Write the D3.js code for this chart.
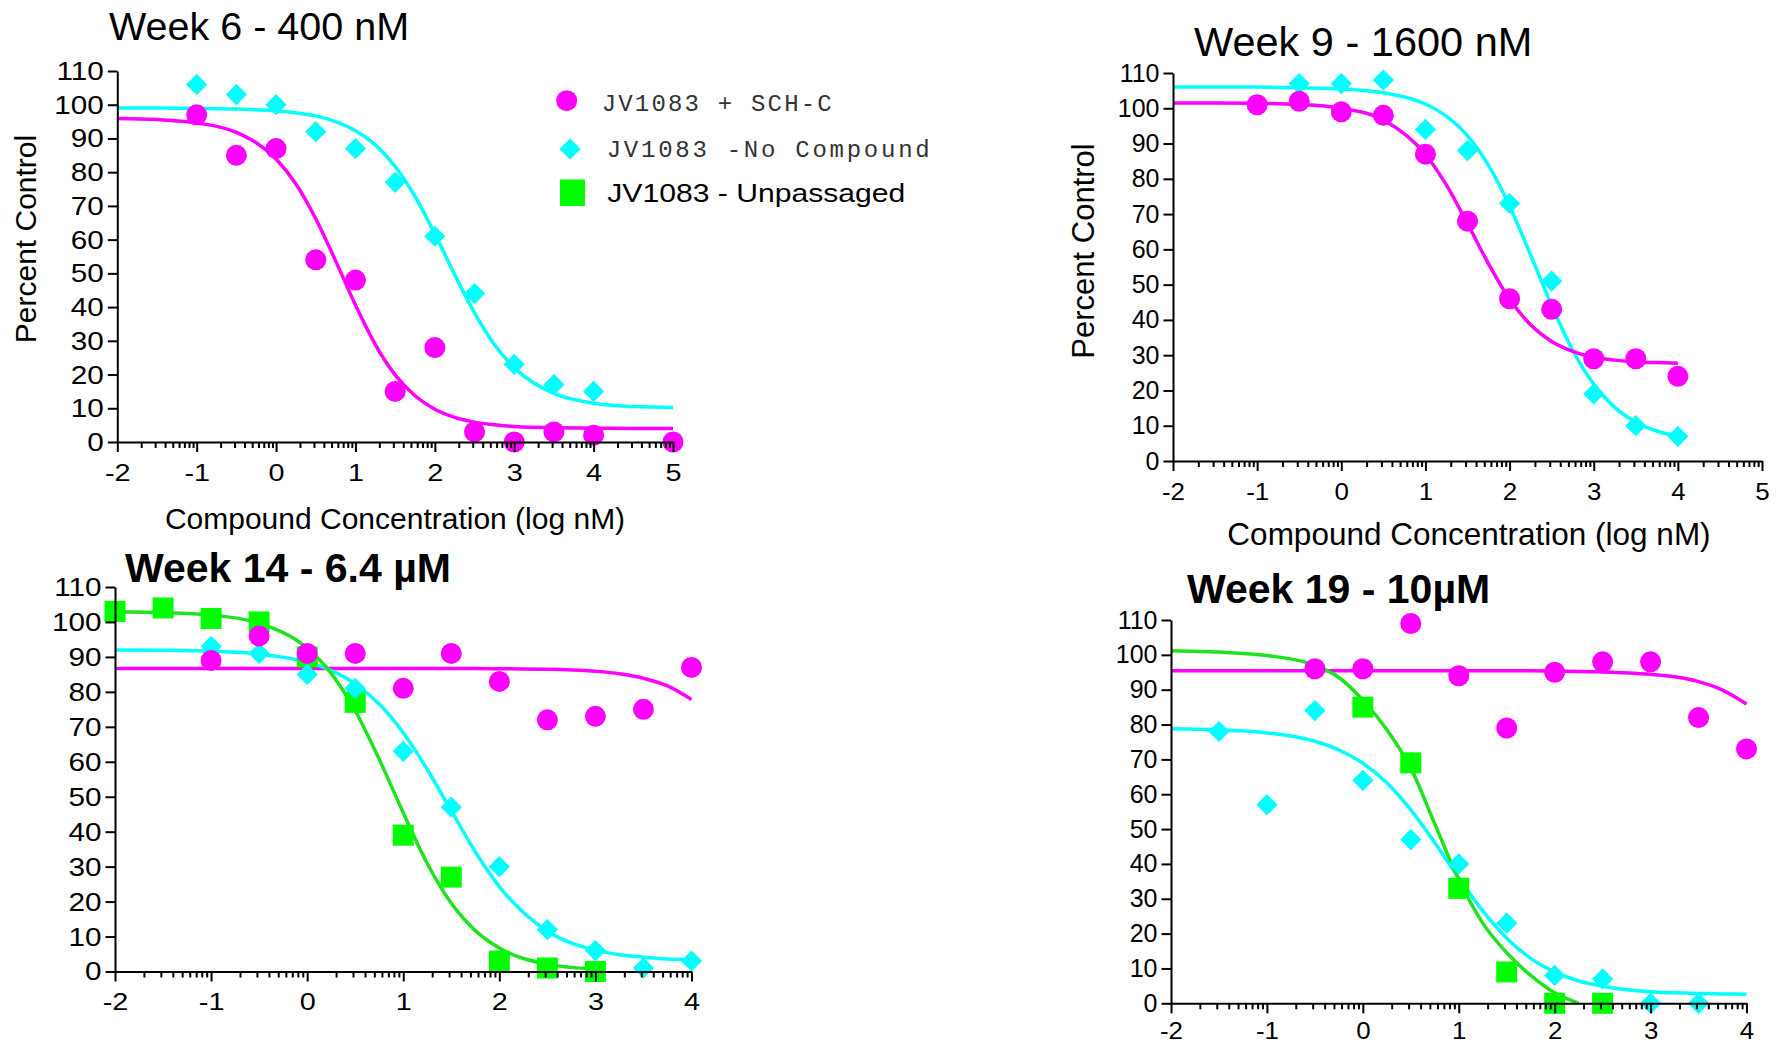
<!DOCTYPE html>
<html>
<head>
<meta charset="utf-8">
<script src="https://cdnjs.cloudflare.com/ajax/libs/d3/7.8.5/d3.min.js"></script>
<style>
  body { margin: 0; background: #fff; }
  svg { display: block; }
</style>
</head>
<body>
<div id="chart"></div>
<script>
// measured points (log nM vs percent control)
var doseW6Magenta = [-1, -0.5, 0, 0.5, 1, 1.5, 2, 2.5, 3, 3.5, 4, 5];
var w6Magenta = [97, 85, 87, 54, 48, 15, 28, 3, 0, 3, 2, 0];
var doseW6Cyan = [-1, -0.5, 0, 0.5, 1, 1.5, 2, 2.5, 3, 3.5, 4];
var w6Cyan = [106, 103, 100, 92, 87, 77, 61, 44, 23, 17, 15];

var doseW9Magenta = [-1, -0.5, 0, 0.5, 1, 1.5, 2, 2.5, 3, 3.5, 4];
var w9Magenta = [101, 102, 99, 98, 87, 68, 46, 43, 29, 29, 24];
var doseW9Cyan = [-0.5, 0, 0.5, 1, 1.5, 2, 2.5, 3, 3.5, 4];
var w9Cyan = [107, 107, 108, 94, 88, 73, 51, 19, 10, 7];

var doseW14Green = [-2, -1.5, -1, -0.5, 0, 0.5, 1, 1.5, 2, 2.5, 3];
var w14Green = [103, 104, 101, 100, 90, 77, 39, 27, 3, 1, 0];
var doseW14 = [-1, -0.5, 0, 0.5, 1, 1.5, 2, 2.5, 3, 3.5, 4];
var w14Cyan = [93, 91, 85, 81, 63, 47, 30, 12, 6, 1, 3];
var w14Magenta = [89, 96, 91, 91, 81, 91, 83, 72, 73, 75, 87];

var doseW19Green = [0, 0.5, 1, 1.5, 2, 2.5];
var w19Green = [85, 69, 33, 9, 0, 0];
var doseW19Cyan = [-1.5, -1, -0.5, 0, 0.5, 1, 1.5, 2, 2.5, 3, 3.5];
var w19Cyan = [78, 57, 84, 64, 47, 40, 23, 8, 7, 0, 0];
var doseW19Magenta = [-0.5, 0, 0.5, 1, 1.5, 2, 2.5, 3, 3.5, 4];
var w19Magenta = [96, 96, 109, 94, 79, 95, 98, 98, 82, 73];

// fitted curves
var fitGridW6 = [-2, -1.5, -1, -0.5, 0, 0.25, 0.5, 0.75, 1, 1.25, 1.5, 1.75, 2, 2.25, 2.5, 2.75, 3, 3.5, 4, 4.5, 5];
var fitW6Magenta = [95.9, 95.6, 94.6, 91.8, 83.9, 76.5, 66.2, 53.7, 40.6, 28.9, 19.9, 13.7, 9.7, 7.3, 5.9, 5.1, 4.6, 4.2, 4.1, 4.0, 4.0];
var fitW6Cyan = [99.0, 99.0, 98.9, 98.7, 98.2, 97.6, 96.7, 95.0, 92.3, 88.1, 81.7, 72.8, 61.7, 49.6, 38.3, 28.9, 22.0, 14.4, 11.5, 10.5, 10.2];

var fitGridW9 = [-2, -1.5, -1, -0.5, 0, 0.5, 1, 1.25, 1.5, 1.75, 2, 2.25, 2.5, 2.75, 3, 3.25, 3.5, 3.75, 4];
var fitW9Cyan = [106.0, 106.0, 106.0, 105.8, 105.5, 104.4, 101.2, 97.7, 92.2, 83.8, 72.3, 58.4, 44.1, 31.4, 21.8, 15.2, 11.0, 8.5, 7.0];
var fitW9Magenta = [101.5, 101.5, 101.4, 101.1, 100.0, 96.7, 86.9, 78.2, 67.3, 55.9, 45.9, 38.6, 33.9, 31.1, 29.4, 28.6, 28.1, 27.9, 27.7];

var fitGridW14 = [-2, -1.5, -1, -0.5, 0, 0.25, 0.5, 0.75, 1, 1.25, 1.5, 1.75, 2, 2.5, 3, 3.25, 3.5, 3.75, 4];
var fitW14Green = [102.9, 102.7, 102.0, 99.6, 92.5, 85.3, 74.6, 60.7, 45.4, 30.9, 19.5, 11.7, 6.7, 2.1, 0.7];
var fitW14Cyan = [92.0, 91.9, 91.6, 90.8, 88.5, 86.1, 82.3, 76.5, 68.3, 57.8, 46.0, 34.2, 24.3, 11.5, 6.1, 4.8, 4.1, 3.6, 3.4];
var fitW14Magenta = [86.7, 86.7, 86.7, 86.7, 86.7, 86.7, 86.7, 86.7, 86.7, 86.7, 86.7, 86.7, 86.6, 86.5, 85.9, 85.2, 83.9, 81.7, 77.8];

var fitGridW19 = [-2, -1.5, -1, -0.5, -0.25, 0, 0.25, 0.5, 0.75, 1, 1.25, 1.5, 1.75, 2, 2.25, 2.5, 3, 3.25, 3.5, 3.75, 4];
var fitW19Green = [101.2, 100.8, 99.8, 97.0, 93.5, 87.0, 78.5, 67.5, 51.5, 35.5, 23.0, 14.5, 8.0, 3.0, 0.0];
var fitW19Cyan = [78.8, 78.5, 77.6, 75.2, 72.7, 68.9, 63.3, 55.5, 46.1, 36.0, 26.5, 18.7, 12.9, 9.0, 6.4, 4.9, 3.3, 3.0, 2.8, 2.7, 2.6];
var fitW19Magenta = [95.4, 95.4, 95.4, 95.4, 95.4, 95.4, 95.4, 95.4, 95.4, 95.4, 95.4, 95.4, 95.4, 95.3, 95.25, 95.1, 94.4, 93.7, 92.3, 89.9, 85.9];

var yTicks = [0, 10, 20, 30, 40, 50, 60, 70, 80, 90, 100, 110];
var legendLabels = ["JV1083 + SCH-C", "JV1083 -No Compound", "JV1083 - Unpassaged"];

var MAGENTA = "#ff00ff", CYAN = "#00ffff", GREEN = "#00ff00", GREEN_LINE = "#1ee31e";
var SANS = "'Liberation Sans', Arial, sans-serif";
var MONO = "'Liberation Mono', 'Courier New', monospace";

var svg = d3.select("#chart").append("svg")
    .attr("width", 1781)
    .attr("height", 1044)
    .style("background", "#fff");

function pairs(xs, ys) {
    return ys.map(function (v, i) { return [xs[i], v]; });
}

var symbols = {
    circle: d3.symbol().type(d3.symbolCircle).size(Math.PI * 10.5 * 10.5),
    diamond: d3.symbol().type(d3.symbolSquare).size(225),
    square: d3.symbol().type(d3.symbolSquare).size(441)
};

function drawMarker(g, shape, cx, cy, color) {
    g.append("path")
        .attr("transform", "translate(" + cx + "," + cy + ")" + (shape === "diamond" ? " rotate(45)" : ""))
        .attr("d", symbols[shape]())
        .attr("fill", color);
}

// the original labels are a little wider than Arial, so widen them
function stretch(sel, k) {
    sel.each(function () {
        var len = this.getComputedTextLength();
        d3.select(this).attr("textLength", len * k).attr("lengthAdjust", "spacingAndGlyphs");
    });
}

function drawPanel(p) {
    var x = d3.scaleLinear().domain([-2, p.xMax]).range([p.left, p.right]);
    var y = d3.scaleLinear().domain([0, 110]).range([p.bottom, p.top]);
    var g = svg.append("g");

    var line = d3.line()
        .curve(d3.curveMonotoneX)
        .x(function (d) { return x(d[0]); })
        .y(function (d) { return y(d[1]); });

    p.fits.forEach(function (f) {
        g.append("path")
            .datum(pairs(f.xs, f.ys))
            .attr("fill", "none")
            .attr("stroke", f.color)
            .attr("stroke-width", 3.5)
            .attr("d", line);
    });

    p.points.forEach(function (s) {
        pairs(s.xs, s.ys).forEach(function (d) {
            drawMarker(g, s.shape, x(d[0]), y(d[1]), s.color);
        });
    });

    // log-style minor ticks between the decades
    var minor = [];
    for (var n = -2; n < p.xMax; n++) {
        for (var k = 2; k < 10; k++) minor.push(n + Math.log10(k));
    }
    var majors = d3.range(-2, p.xMax + 1);

    var gxMinor = g.append("g")
        .attr("transform", "translate(0," + p.bottom + ")")
        .call(d3.axisBottom(x).tickValues(minor).tickSize(6).tickSizeOuter(0).tickFormat(""));
    gxMinor.select(".domain").remove();

    var gx = g.append("g")
        .attr("transform", "translate(0," + p.bottom + ")")
        .call(d3.axisBottom(x).tickValues(majors).tickSize(10).tickSizeOuter(0).tickPadding(p.xPad)
            .tickFormat(function (d) { return String(d); }));

    var gy = g.append("g")
        .attr("transform", "translate(" + p.left + ",0)")
        .call(d3.axisLeft(y).tickValues(yTicks).tickSize(9.5).tickSizeOuter(0).tickPadding(4));

    [gx, gxMinor, gy].forEach(function (a) {
        a.selectAll("path, line").attr("stroke", "#000").attr("stroke-width", 2);
        a.selectAll("text").attr("fill", "#000").style("font-family", SANS);
    });
    gx.selectAll("text").style("font-size", "24px");
    gy.selectAll("text").style("font-size", p.yLabelSize + "px");
    stretch(gx.selectAll("text"), p.xStretch);
    stretch(gy.selectAll("text"), p.yStretch);

    svg.append("text")
        .attr("x", p.titleX)
        .attr("y", p.titleY)
        .style("font-family", SANS)
        .style("font-size", p.titleSize + "px")
        .style("font-weight", p.titleBold ? "bold" : "normal")
        .text(p.title);

    if (p.yTitle) {
        svg.append("text")
            .attr("transform", "translate(" + p.yTitle.x + "," + p.yTitle.y + ") rotate(-90)")
            .attr("text-anchor", "middle")
            .style("font-family", SANS)
            .style("font-size", p.yTitle.size + "px")
            .text("Percent Control");
    }
    if (p.xTitle) {
        svg.append("text")
            .attr("x", p.xTitle.x)
            .attr("y", p.xTitle.y)
            .attr("text-anchor", "middle")
            .style("font-family", SANS)
            .style("font-size", p.xTitle.size + "px")
            .text("Compound Concentration (log nM)");
    }
}

drawPanel({
    xMax: 5, left: 117.3, right: 673, top: 71, bottom: 442,
    xPad: 12, yLabelSize: 26.5, xStretch: 1.2, yStretch: 1.12,
    title: "Week 6 - 400 nM", titleX: 109, titleY: 40, titleSize: 39.5,
    yTitle: { x: 36, y: 239, size: 30 },
    xTitle: { x: 395, y: 529, size: 30 },
    fits: [
        { xs: fitGridW6, ys: fitW6Cyan, color: CYAN },
        { xs: fitGridW6, ys: fitW6Magenta, color: MAGENTA }
    ],
    points: [
        { xs: doseW6Cyan, ys: w6Cyan, shape: "diamond", color: CYAN },
        { xs: doseW6Magenta, ys: w6Magenta, shape: "circle", color: MAGENTA }
    ]
});

drawPanel({
    xMax: 5, left: 1173, right: 1762, top: 73, bottom: 461,
    xPad: 12, yLabelSize: 25, xStretch: 1.08, yStretch: 1.0,
    title: "Week 9 - 1600 nM", titleX: 1194, titleY: 56, titleSize: 41.5,
    yTitle: { x: 1094, y: 251, size: 31 },
    xTitle: { x: 1469, y: 545, size: 31.5 },
    fits: [
        { xs: fitGridW9, ys: fitW9Cyan, color: CYAN },
        { xs: fitGridW9, ys: fitW9Magenta, color: MAGENTA }
    ],
    points: [
        { xs: doseW9Cyan, ys: w9Cyan, shape: "diamond", color: CYAN },
        { xs: doseW9Magenta, ys: w9Magenta, shape: "circle", color: MAGENTA }
    ]
});

drawPanel({
    xMax: 4, left: 115, right: 691.5, top: 587, bottom: 971.5,
    xPad: 11, yLabelSize: 26.5, xStretch: 1.2, yStretch: 1.12,
    title: "Week 14 - 6.4 \u00b5M", titleX: 125, titleY: 582, titleSize: 41, titleBold: true,
    fits: [
        { xs: fitGridW14, ys: fitW14Magenta, color: MAGENTA },
        { xs: fitGridW14, ys: fitW14Cyan, color: CYAN },
        { xs: fitGridW14, ys: fitW14Green, color: GREEN_LINE }
    ],
    points: [
        { xs: doseW14Green, ys: w14Green, shape: "square", color: GREEN },
        { xs: doseW14, ys: w14Cyan, shape: "diamond", color: CYAN },
        { xs: doseW14, ys: w14Magenta, shape: "circle", color: MAGENTA }
    ]
});

drawPanel({
    xMax: 4, left: 1171, right: 1746.5, top: 620, bottom: 1003.3,
    xPad: 9, yLabelSize: 25, xStretch: 1.08, yStretch: 1.0,
    title: "Week 19 - 10\u00b5M", titleX: 1187, titleY: 602.5, titleSize: 41, titleBold: true,
    fits: [
        { xs: fitGridW19, ys: fitW19Magenta, color: MAGENTA },
        { xs: fitGridW19, ys: fitW19Cyan, color: CYAN },
        { xs: fitGridW19, ys: fitW19Green, color: GREEN_LINE }
    ],
    points: [
        { xs: doseW19Green, ys: w19Green, shape: "square", color: GREEN },
        { xs: doseW19Cyan, ys: w19Cyan, shape: "diamond", color: CYAN },
        { xs: doseW19Magenta, ys: w19Magenta, shape: "circle", color: MAGENTA }
    ]
});

// legend (sits inside the first panel)
var legend = svg.append("g");
drawMarker(legend, "circle", 566.7, 100.7, MAGENTA);
drawMarker(legend, "diamond", 570, 149, CYAN);
legend.append("rect").attr("x", 560).attr("y", 179.5).attr("width", 25).attr("height", 26.5).attr("fill", GREEN);

legend.append("text")
    .attr("x", 601.7).attr("y", 110.7)
    .attr("textLength", 230).attr("lengthAdjust", "spacing")
    .style("font-family", MONO)
    .style("font-size", "24px").attr("fill", "#333")
    .text(legendLabels[0]);
legend.append("text")
    .attr("x", 606.7).attr("y", 157.3)
    .attr("textLength", 323).attr("lengthAdjust", "spacing")
    .style("font-family", MONO)
    .style("font-size", "24px").attr("fill", "#333")
    .text(legendLabels[1]);
legend.append("text")
    .attr("x", 607.3).attr("y", 201.7)
    .attr("textLength", 298).attr("lengthAdjust", "spacingAndGlyphs")
    .style("font-family", SANS)
    .style("font-size", "26px")
    .text(legendLabels[2]);
</script>
</body>
</html>
